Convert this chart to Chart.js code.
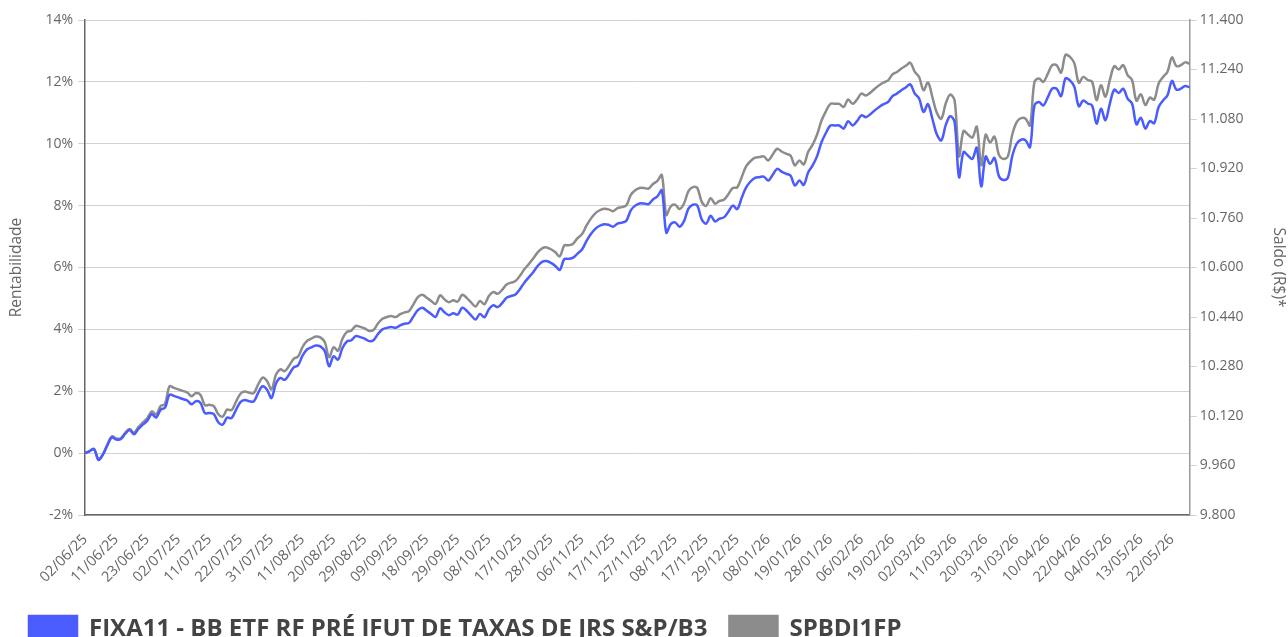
<!DOCTYPE html>
<html>
<head>
<meta charset="utf-8">
<script src="https://cdn.jsdelivr.net/npm/chart.js@4/dist/chart.umd.min.js"></script>
<style>
  body { margin: 0; overflow: hidden; background: #fff; }
  .wrap { width: 1288px; height: 652px; position: relative; }
</style>
</head>
<body>
<div class="wrap"><canvas class="perf-chart"></canvas></div>
<script>
// dias úteis de cada mês (jun/25 a mai/26)
const months = [
  ['06/25', [2,3,4,5,6,9,10,11,12,13,16,17,18,20,23,24,25,26,27,30]],
  ['07/25', [1,2,3,4,7,8,9,10,11,14,15,16,17,18,21,22,23,24,25,28,29,30,31]],
  ['08/25', [1,4,5,6,7,8,11,12,13,14,15,18,19,20,21,22,25,26,27,28,29]],
  ['09/25', [1,2,3,4,5,8,9,10,11,12,15,16,17,18,19,22,23,24,25,26,29,30]],
  ['10/25', [1,2,3,6,7,8,9,10,13,14,15,16,17,20,21,22,23,24,27,28,29,30,31]],
  ['11/25', [3,4,5,6,7,10,11,12,13,14,17,18,19,21,24,25,26,27,28]],
  ['12/25', [1,2,3,4,5,8,9,10,11,12,15,16,17,18,19,22,23,24,26,29,30,31]],
  ['01/26', [2,5,6,7,8,9,12,13,14,15,16,19,20,21,22,23,26,27,28,29,30]],
  ['02/26', [2,3,4,5,6,9,10,11,12,13,18,19,20,23,24,25,26,27]],
  ['03/26', [2,3,4,5,6,9,10,11,12,13,16,17,18,19,20,23,24,25,26,27,30,31]],
  ['04/26', [1,2,6,7,8,9,10,13,14,15,16,17,20,22,23,24,27,28,29,30]],
  ['05/26', [4,5,6,7,8,11,12,13,14,15,18,19,20,21,22,25,26,27,28]]
];
const dates = [];
months.forEach(([mm, days]) => {
  days.forEach(d => dates.push(String(d).padStart(2, '0') + '/' + mm));
});

// rentabilidade acumulada (%)
const fixa11 = [
  0.00, 0.06, 0.13, -0.22, -0.05, 0.25, 0.51, 0.44, 0.45, 0.62,
  0.75, 0.61, 0.78, 0.92, 1.05, 1.26, 1.15, 1.40, 1.47, 1.89,
  1.85, 1.80, 1.75, 1.70, 1.58, 1.68, 1.62, 1.29, 1.30, 1.26,
  1.00, 0.92, 1.15, 1.13, 1.40, 1.65, 1.72, 1.68, 1.67, 1.95,
  2.16, 2.05, 1.78, 2.25, 2.43, 2.37, 2.55, 2.77, 2.84, 3.15,
  3.35, 3.42, 3.48, 3.45, 3.30, 2.81, 3.13, 3.02, 3.40, 3.61,
  3.65, 3.78, 3.75, 3.70, 3.62, 3.65, 3.85, 4.00, 4.05, 4.08,
  4.05, 4.13, 4.18, 4.21, 4.42, 4.62, 4.70, 4.60, 4.50, 4.40,
  4.68, 4.55, 4.46, 4.52, 4.48, 4.70, 4.60, 4.45, 4.32, 4.50,
  4.39, 4.65, 4.78, 4.72, 4.85, 5.02, 5.08, 5.13, 5.30, 5.51,
  5.68, 5.85, 6.05, 6.18, 6.21, 6.15, 6.05, 5.92, 6.27, 6.28,
  6.32, 6.45, 6.58, 6.85, 7.08, 7.25, 7.35, 7.40, 7.38, 7.32,
  7.42, 7.45, 7.51, 7.85, 8.00, 8.07, 8.07, 8.05, 8.20, 8.30,
  8.49, 7.13, 7.40, 7.46, 7.32, 7.50, 7.90, 8.03, 8.00, 7.55,
  7.42, 7.67, 7.49, 7.58, 7.62, 7.80, 8.00, 7.89, 8.25, 8.59,
  8.78, 8.90, 8.92, 8.94, 8.81, 9.00, 9.19, 9.10, 9.03, 8.97,
  8.65, 8.81, 8.67, 9.08, 9.30, 9.60, 10.05, 10.35, 10.59, 10.59,
  10.59, 10.49, 10.73, 10.59, 10.73, 10.92, 10.86, 10.95, 11.08, 11.19,
  11.28, 11.35, 11.54, 11.62, 11.73, 11.82, 11.92, 11.63, 11.46, 11.03,
  11.28, 10.80, 10.30, 10.11, 10.60, 10.89, 10.70, 8.92, 9.73, 9.62,
  9.51, 9.87, 8.62, 9.59, 9.35, 9.54, 8.95, 8.83, 8.90, 9.60,
  10.00, 10.13, 10.11, 9.89, 11.24, 11.35, 11.24, 11.50, 11.78, 11.78,
  11.54, 12.11, 12.05, 11.84, 11.21, 11.40, 11.30, 11.24, 10.65, 11.13,
  10.76, 11.30, 11.75, 11.64, 11.78, 11.46, 11.30, 10.63, 10.84, 10.49,
  10.73, 10.67, 11.19, 11.40, 11.57, 12.03, 11.75, 11.78, 11.87, 11.82
];

const spbdi1fp = [
  0.00, 0.07, 0.14, -0.20, -0.03, 0.28, 0.54, 0.47, 0.48, 0.65,
  0.78, 0.66, 0.84, 0.99, 1.13, 1.35, 1.25, 1.52, 1.59, 2.16,
  2.11, 2.06, 2.01, 1.96, 1.84, 1.94, 1.88, 1.55, 1.56, 1.52,
  1.26, 1.18, 1.41, 1.39, 1.66, 1.92, 1.99, 1.95, 1.94, 2.22,
  2.44, 2.33, 2.06, 2.53, 2.71, 2.65, 2.83, 3.05, 3.12, 3.43,
  3.63, 3.70, 3.77, 3.74, 3.59, 3.10, 3.42, 3.31, 3.70, 3.92,
  3.96, 4.11, 4.08, 4.03, 3.95, 3.98, 4.19, 4.34, 4.40, 4.43,
  4.40, 4.49, 4.55, 4.59, 4.81, 5.04, 5.12, 5.02, 4.92, 4.82,
  5.10, 4.97, 4.88, 4.94, 4.90, 5.12, 5.02, 4.87, 4.74, 4.92,
  4.81, 5.08, 5.21, 5.15, 5.28, 5.45, 5.51, 5.56, 5.73, 5.94,
  6.11, 6.29, 6.49, 6.62, 6.65, 6.59, 6.49, 6.36, 6.71, 6.72,
  6.77, 6.95, 7.08, 7.35, 7.58, 7.75, 7.85, 7.90, 7.88, 7.82,
  7.92, 7.95, 8.01, 8.35, 8.50, 8.57, 8.57, 8.55, 8.70, 8.80,
  8.99, 7.70, 7.97, 8.03, 7.89, 8.07, 8.47, 8.60, 8.57, 8.12,
  7.99, 8.24, 8.06, 8.15, 8.19, 8.37, 8.57, 8.59, 8.92, 9.27,
  9.44, 9.55, 9.57, 9.59, 9.46, 9.65, 9.84, 9.75, 9.68, 9.62,
  9.30, 9.46, 9.33, 9.74, 9.97, 10.30, 10.75, 11.05, 11.29, 11.29,
  11.29, 11.19, 11.43, 11.29, 11.43, 11.62, 11.56, 11.65, 11.78, 11.89,
  11.98, 12.05, 12.24, 12.32, 12.43, 12.52, 12.62, 12.33, 12.16, 11.73,
  11.98, 11.50, 11.00, 10.81, 11.30, 11.59, 11.40, 9.60, 10.41, 10.30,
  10.20, 10.55, 9.30, 10.29, 10.04, 10.23, 9.64, 9.51, 9.59, 10.30,
  10.70, 10.83, 10.81, 10.59, 12.00, 12.11, 12.00, 12.26, 12.54, 12.54,
  12.30, 12.87, 12.81, 12.60, 11.97, 12.16, 12.06, 12.00, 11.41, 11.89,
  11.52, 12.06, 12.51, 12.40, 12.54, 12.22, 12.06, 11.39, 11.60, 11.25,
  11.49, 11.43, 11.95, 12.16, 12.33, 12.79, 12.51, 12.54, 12.63, 12.58
];

const seriesNames = ['FIXA11 - BB ETF RF PRÉ IFUT DE TAXAS DE JRS S&P/B3', 'SPBDI1FP'];
const seriesColors = ['#4a5cfd', '#8c8c8c'];

// eixos
const pctRange = [-2, 14, 2];
const saldoRange = [9800, 11400, 160];

Chart.defaults.font.family = "'Open Sans', sans-serif";
Chart.defaults.color = '#666';

const ctx = document.querySelector('.perf-chart');

new Chart(ctx, {
    type: 'line',
    data: {
        labels: dates,
        datasets: [{
            label: seriesNames[0],
            data: fixa11,
            borderColor: seriesColors[0],
            backgroundColor: seriesColors[0],
            borderWidth: 2.5,
            pointRadius: 0,
            tension: 0.35,
            yAxisID: 'y'
        }, {
            label: seriesNames[1],
            data: spbdi1fp,
            borderColor: seriesColors[1],
            backgroundColor: seriesColors[1],
            borderWidth: 2.5,
            pointRadius: 0,
            tension: 0.35,
            yAxisID: 'y'
        }]
    },
    options: {
        responsive: true,
        maintainAspectRatio: false,
        animation: false,
        layout: {
            padding: { left: 7, right: 0, top: 20 }
        },
        scales: {
            x: {
                grid: { display: false },
                border: { display: true, color: '#666', width: 1.5 },
                ticks: {
                    autoSkip: false,
                    minRotation: 45,
                    maxRotation: 45,
                    padding: 8,
                    font: { size: 14.5 },
                    callback: function (value, index) {
                        return index % 7 === 0 ? this.getLabelForValue(value) : '';
                    }
                }
            },
            y: {
                position: 'left',
                min: pctRange[0],
                max: pctRange[1],
                ticks: {
                    stepSize: pctRange[2],
                    padding: 5,
                    font: { size: 14 },
                    callback: v => v + '%'
                },
                grid: { color: '#d2d2d2', tickLength: 7 },
                border: { color: '#666', width: 1.5 },
                title: {
                    display: true,
                    text: 'Rentabilidade',
                    font: { size: 15.5 },
                    padding: { top: 0, bottom: 15 }
                }
            },
            y1: {
                position: 'right',
                min: saldoRange[0],
                max: saldoRange[1],
                ticks: {
                    stepSize: saldoRange[2],
                    padding: 3,
                    font: { size: 14 },
                    callback: v => String(Math.round(v)).replace(/\B(?=(\d{3})+(?!\d))/g, '.')
                },
                grid: { drawOnChartArea: false, color: '#d2d2d2', tickLength: 7 },
                border: { color: '#999', width: 1.5 },
                title: {
                    display: true,
                    text: 'Saldo (R$)*',
                    font: { size: 15.5 },
                    padding: { top: 0, bottom: 23 }
                }
            }
        },
        plugins: {
            legend: {
                position: 'bottom',
                align: 'start',
                labels: {
                    boxWidth: 48,
                    boxHeight: 26,
                    padding: 22,
                    color: '#444',
                    font: { size: 24, weight: 'bold' }
                }
            },
            tooltip: { enabled: false }
        }
    }
});
</script>
</body>
</html>
